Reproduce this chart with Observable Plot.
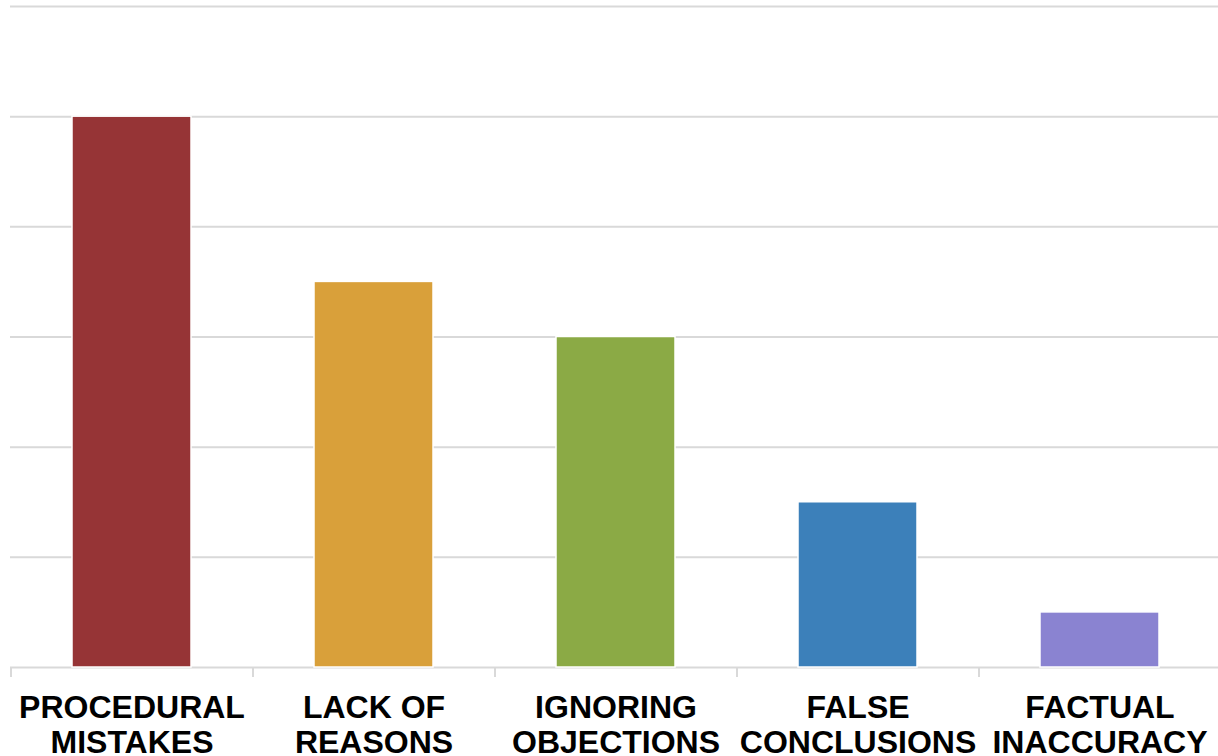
<!DOCTYPE html>
<html>
<head>
<meta charset="utf-8">
<script src="https://cdn.jsdelivr.net/npm/d3@7"></script>
<script src="https://cdn.jsdelivr.net/npm/@observablehq/plot@0.6"></script>
<style>
  html, body { margin: 0; padding: 0; background: #fff; }
  #chart { width: 1218px; height: 756px; overflow: hidden; }
</style>
</head>
<body>
<div id="chart"></div>
<script>
// Criticism categories and how often each was raised
const categories = [
  "PROCEDURAL\nMISTAKES",
  "LACK OF\nREASONS",
  "IGNORING\nOBJECTIONS",
  "FALSE\nCONCLUSIONS",
  "FACTUAL\nINACCURACY"
];
const values = [5, 3.5, 3, 1.5, 0.5];
const colors = ["#963436", "#D9A03A", "#8BAA45", "#3C80BA", "#8A83D1"];
const gridValues = [0, 1, 2, 3, 4, 5, 6];

const data = categories.map((c, i) => ({category: c, value: values[i], color: colors[i]}));

const xRange = [10, 1220];
const step = (xRange[1] - xRange[0]) / categories.length;

const chart = Plot.plot({
  width: 1218,
  height: 756,
  marginLeft: 10,
  marginRight: 0,
  marginTop: 6,
  marginBottom: 89,
  style: {fontFamily: "'Liberation Sans', Arial, sans-serif", background: "#fff"},
  x: {domain: categories, range: xRange, paddingInner: 0.51, paddingOuter: 0.255, align: 0.5, label: null},
  y: {domain: [0, 6], axis: null},
  marks: [
    Plot.ruleY(gridValues, {stroke: "#d9d9d9", strokeWidth: 2}),
    // small separators between categories below the baseline
    Plot.ruleX(categories, {x: d => d, dx: -step / 2, y1: 0, y2: -0.09, stroke: "#d9d9d9", strokeWidth: 2}),
    Plot.ruleX(categories.slice(-1), {x: d => d, dx: step / 2 - 1, y1: 0, y2: -0.09, stroke: "#d9d9d9", strokeWidth: 2}),
    Plot.barY(data, {x: "category", y: "value", fill: "color", stroke: "#fff", strokeWidth: 1.5}),
    Plot.axisX({
      label: null,
      tickSize: 0,
      tickPadding: 25,
      fontSize: 32,
      fontWeight: "bold",
      lineHeight: 1.1,
      fill: "#000"
    })
  ]
});

document.getElementById("chart").appendChild(chart);
</script>
</body>
</html>
